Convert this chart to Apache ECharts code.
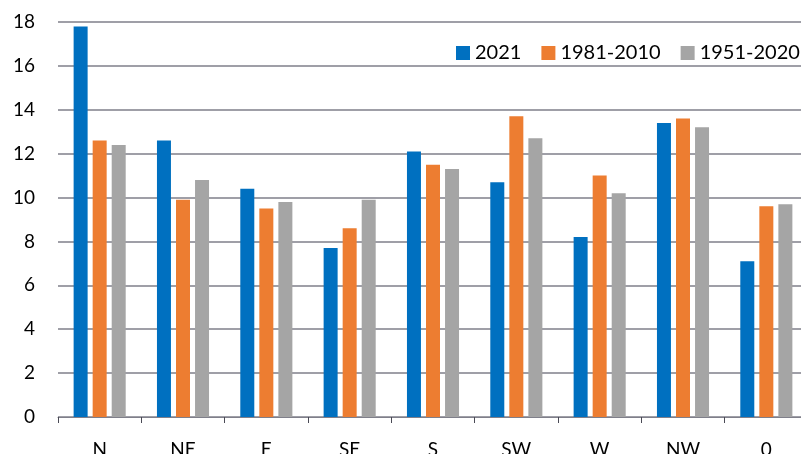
<!DOCTYPE html>
<html>
<head>
<meta charset="utf-8">
<script src="https://cdn.jsdelivr.net/npm/echarts@6/dist/echarts.min.js"></script>
<style>
  html, body { margin: 0; padding: 0; background: #fff; }
  #chart { width: 801px; height: 454px; }
</style>
</head>
<body>
<div id="chart"></div>
<script>
  // 风向类别
  var categories = ['N', 'NE', 'E', 'SE', 'S', 'SW', 'W', 'NW', '0'];
  // 各时段数值
  var y2021 = [17.8, 12.6, 10.4, 7.7, 12.1, 10.7, 8.2, 13.4, 7.1];
  var y1981_2010 = [12.6, 9.9, 9.5, 8.6, 11.5, 13.7, 11.0, 13.6, 9.6];
  var y1951_2020 = [12.4, 10.8, 9.8, 9.9, 11.3, 12.7, 10.2, 13.2, 9.7];
  var seriesNames = ['2021', '1981-2010', '1951-2020'];

  var font = 'Lato, "Open Sans", sans-serif';
  var myChart = echarts.init(document.getElementById('chart'));

  var option = {
    animation: false,
    color: ['#0070c0', '#ed7d31', '#a5a5a5'],
    grid: {
      left: 58,
      right: -7,
      top: 22,
      bottom: 37,
      containLabel: false,
      outerBoundsMode: 'none'  // 标签可以超出画布
    },
    legend: {
      data: seriesNames,
      left: 451,
      top: 38,
      width: 500,   // 不设置宽度会换行
      itemWidth: 14,
      itemHeight: 14,
      itemGap: 20,
      icon: 'rect',
      textStyle: {
        fontFamily: font,
        fontSize: 20,
        color: '#000'
      }
    },
    xAxis: {
      type: 'category',
      data: categories,
      axisLine: { lineStyle: { color: '#7f7f8a', width: 1 } },
      axisTick: { show: true, length: 6, lineStyle: { color: '#4a4a55' } },
      axisLabel: {
        margin: 23,
        fontFamily: font,
        fontSize: 19,
        color: '#000'
      }
    },
    yAxis: {
      type: 'value',
      min: 0,
      max: 18,
      interval: 2,
      axisLine: { show: false },
      axisTick: { show: false },
      axisLabel: {
        margin: 23,
        fontFamily: font,
        fontSize: 19,
        color: '#000'
      },
      splitLine: {
        show: true,
        lineStyle: { color: '#7f7f8a', width: 1.5 }
      }
    },
    series: [
      { name: seriesNames[0], type: 'bar', data: y2021, barWidth: 14, barGap: '36%' },
      { name: seriesNames[1], type: 'bar', data: y1981_2010, barWidth: 14, barGap: '36%' },
      { name: seriesNames[2], type: 'bar', data: y1951_2020, barWidth: 14, barGap: '36%' }
    ]
  };

  myChart.setOption(option);

  window.addEventListener('resize', function () {
    myChart.resize();
  });
</script>
</body>
</html>
